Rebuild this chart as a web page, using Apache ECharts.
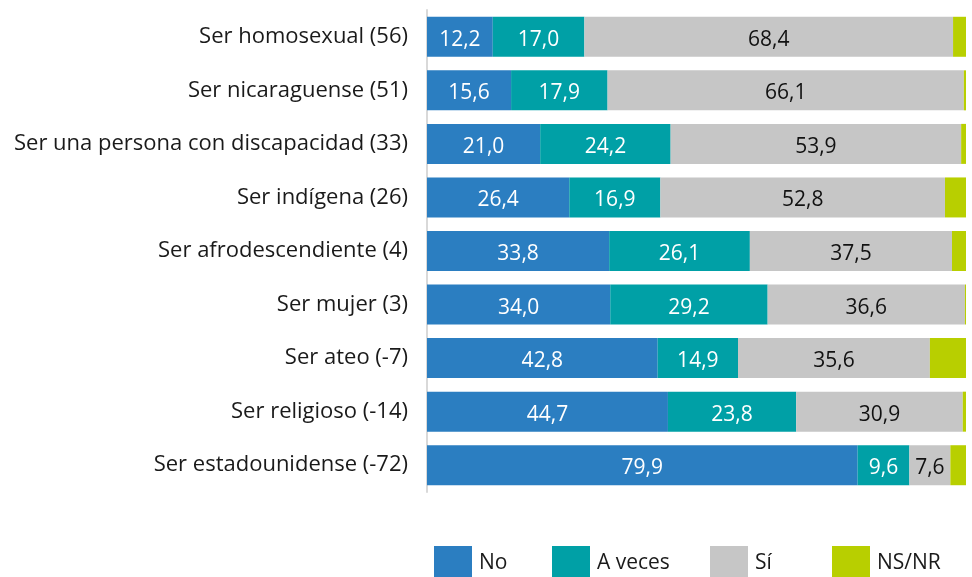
<!DOCTYPE html>
<html>
<head>
	<meta charset="utf-8">
	<title>Barras apiladas</title>
	<style>
		html, body { margin: 0; padding: 0; background: #fff; }
		#chart1 { width: 972px; height: 577px; }
	</style>
</head>
<body>
	<div id="chart1"></div>

	<script src="https://cdn.jsdelivr.net/npm/echarts@6/dist/echarts.min.js"></script>
	<script type="text/javascript">

    var categories = ['Ser homosexual (56)', 'Ser nicaraguense (51)', 'Ser una persona con discapacidad (33)',
        'Ser indígena (26)', 'Ser afrodescendiente (4)', 'Ser mujer (3)', 'Ser ateo (-7)',
        'Ser religioso (-14)', 'Ser estadounidense (-72)'];
    var no     = [12.2, 15.6, 21.0, 26.4, 33.8, 34.0, 42.8, 44.7, 79.9];
    var aveces = [17.0, 17.9, 24.2, 16.9, 26.1, 29.2, 14.9, 23.8, 9.6];
    var si     = [68.4, 66.1, 53.9, 52.8, 37.5, 36.6, 35.6, 30.9, 7.6];
    var nsnr   = [2.4, 0.4, 0.9, 3.9, 2.6, 0.2, 6.7, 0.6, 2.9];

    var fontFam = '"Open Sans", "Noto Sans", sans-serif';

    function fmt(p) {
        return p.value.toFixed(1).replace('.', ',');
    }

    function legendAt(name, left) {
        return {
            data: [name],
            left: left,
            top: 541,
            itemWidth: 38,
            itemHeight: 35,
            itemGap: 0,
            icon: 'rect',
            textStyle: { fontSize: 21, color: '#1a1a1a', fontFamily: fontFam, padding: [0, 0, 0, 2] }
        };
    }

    function bar(name, data, color, labelColor) {
        return {
            name: name,
            type: 'bar',
            stack: 'total',
            barWidth: 40,
            data: data,
            itemStyle: { color: color },
            label: {
                show: labelColor !== null,
                position: 'inside',
                offset: [0, 3],
                color: labelColor,
                fontSize: 21,
                fontFamily: fontFam,
                formatter: fmt
            }
        };
    }

    var myChart = echarts.init(document.getElementById('chart1'));
    var option = {
        animation: false,
        grid: { left: 427, right: 6, top: 10, height: 482 },
        legend: [
            legendAt('No', 429),
            legendAt('A veces', 547),
            legendAt('Sí', 705),
            legendAt('NS/NR', 827)
        ],
        xAxis: {
            type: 'value',
            min: 0,
            max: 100,
            show: false
        },
        yAxis: {
            type: 'category',
            data: categories,
            inverse: true,
            axisLine: { show: true, lineStyle: { color: '#d9d9d9', width: 2 } },
            axisTick: { show: false },
            axisLabel: { fontSize: 22, color: '#1a1a1a', fontFamily: fontFam, margin: 19, padding: [6, 0, 0, 0] }
        },
        series: [
            bar('No', no, '#2b7ec1', '#ffffff'),
            bar('A veces', aveces, '#00a0a6', '#ffffff'),
            bar('Sí', si, '#c6c6c6', '#111111'),
            bar('NS/NR', nsnr, '#b8cf00', null)
        ]
    };
    myChart.setOption(option, true);

	</script>
</body>
</html>
